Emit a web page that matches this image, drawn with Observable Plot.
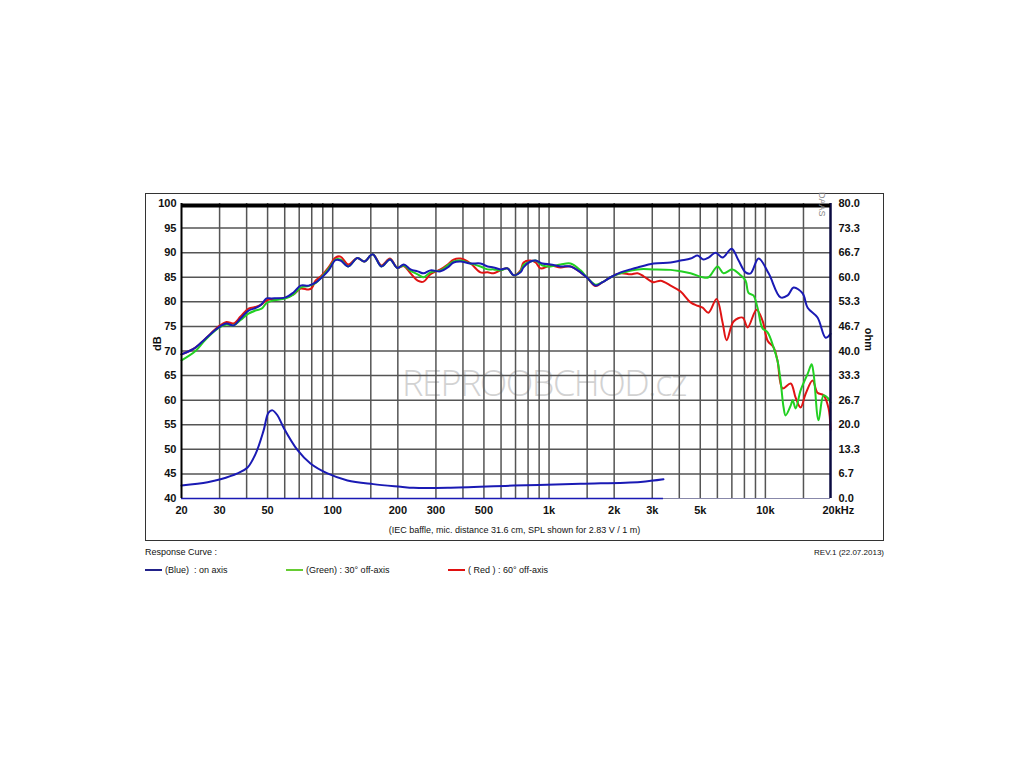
<!DOCTYPE html>
<html><head><meta charset="utf-8">
<script src="https://cdn.jsdelivr.net/npm/d3@7"></script>
<script src="https://cdn.jsdelivr.net/npm/@observablehq/plot@0.6"></script>
<style>
body{margin:0;background:#fff;font-family:"Liberation Sans",Arial,sans-serif;}
#box{position:absolute;left:145px;top:193px;width:737px;height:346px;border:1px solid #333;}
#chart{position:absolute;left:0;top:0;}
#caption{position:absolute;left:0;width:737px;top:331px;text-align:center;font-size:9px;color:#111;}
.leg{position:absolute;font-size:9px;color:#111;white-space:nowrap;line-height:11px;}
.sw{position:absolute;height:2px;width:17px;}
</style></head><body>
<div id="box"><div id="chart"></div><div id="caption">(IEC baffle, mic. distance 31.6 cm, SPL shown for 2.83 V / 1 m)</div></div>
<div class="leg" style="left:145px;top:547px;">Response Curve :</div>
<div class="leg" style="right:140px;top:547px;font-size:8px;">REV.1 (22.07.2013)</div>
<div class="sw" style="left:145px;top:569px;background:#22228a;"></div>
<div class="leg" style="left:165px;top:565px;">(Blue)&nbsp; : on axis</div>
<div class="sw" style="left:286px;top:569px;background:#66cc33;"></div>
<div class="leg" style="left:306px;top:565px;">(Green) : 30° off-axis</div>
<div class="sw" style="left:448px;top:569px;background:#e01010;"></div>
<div class="leg" style="left:468px;top:565px;">( Red ) : 60° off-axis</div>
<script>
// ---- data ----
const seriesNames = ["on axis", "30° off-axis", "60° off-axis"];
const onAxis = [[20,69.3],[23.2,70.7],[25.8,72.5],[29.7,74.8],[32.3,75.6],[34.8,75.2],[37.5,76.6],[40.8,78.2],[44.4,78.8],[46.9,79.5],[49.4,80.7],[52.1,80.7],[60.5,80.9],[65.9,81.9],[71,83.3],[77.3,83.3],[83.3,83.9],[88.7,84.9],[95.7,86.4],[103,88.5],[108.7,88.4],[118,87.2],[130,88.9],[140,88.2],[153,89.7],[168,87.2],[184,88.6],[199,86.9],[213,87.6],[229,86.6],[247,86.2],[263,85.8],[283,86.4],[315,86.2],[340,87],[362,88],[390,88.2],[434,87.8],[482,87.8],[520,87.2],[554,87],[597,86.6],[643,86.8],[686,85.4],[738,86],[762,87],[821,88.2],[867,88.4],[933,87.8],[1016,87.6],[1130,87.2],[1257,87.2],[1399,86],[1508,84.8],[1640,83.3],[1768,84],[1925,85],[2143,86],[2380,86.6],[2566,87],[3041,87.8],[3647,88],[4056,88.4],[4510,88.8],[4860,89.4],[5180,88.6],[5460,89],[5890,90],[6340,89],[6980,90.8],[7520,88.4],[8100,86],[8550,85.8],[9300,88.8],[10350,85.8],[11750,80.9],[12680,81.3],[13500,82.9],[14870,81.7],[15680,78.8],[17420,76.8],[18980,72.7],[20000,73.5]];
const offAxis30 = [[20,68.1],[23.2,70],[25.8,72.3],[29.7,74.7],[32.3,75.4],[34.8,75.2],[37.5,76.3],[40.8,77.6],[44.4,78.3],[46.9,78.6],[49.4,79.7],[52.1,80.2],[60.5,80.7],[65.9,81.5],[71,82.9],[77.3,83.2],[83.3,83.8],[88.7,85],[95.7,86.7],[103,88.6],[108.7,88.6],[118,87.2],[130,88.9],[140,88.2],[153,89.7],[168,87.2],[184,88.6],[199,86.9],[213,87.4],[229,86.3],[247,85.6],[263,85],[283,86],[315,86.4],[340,87.4],[362,88.2],[390,88.4],[434,87.8],[482,87.2],[520,86.6],[554,86.6],[597,86.4],[643,86.8],[686,85.4],[738,86.2],[762,87.5],[821,88.2],[867,88.4],[933,87.4],[1016,87.2],[1130,87.6],[1257,87.8],[1399,86.4],[1508,84.8],[1640,83.5],[1768,84],[1925,85],[2143,85.8],[2566,86.6],[3041,86.6],[3647,86.5],[4056,86.2],[4510,85.8],[5128,85],[5460,85],[6012,87.2],[6410,85.8],[7050,86.6],[7680,85.4],[8100,84.3],[8360,81.8],[8800,81.3],[9200,78.8],[9700,74.6],[10240,73.8],[10920,70.7],[11380,68],[11750,64],[12140,58.5],[12400,56.9],[13090,58.9],[13370,60],[13800,58.3],[14550,62],[15700,65.4],[16360,67.3],[16710,65.4],[17620,55.9],[18580,61],[19400,60.5],[20000,59.5]];
const offAxis60 = [[20,69.3],[23.2,70.7],[25.8,72.5],[29.7,75],[32.3,75.9],[34.8,75.6],[37.5,77],[40.8,78.6],[44.4,79],[46.9,79.5],[49.4,80.3],[52.1,80.5],[60.5,80.8],[65.9,81.5],[71,82.7],[77.3,82.5],[80,82.8],[83.3,84.3],[88.7,85.3],[95.7,87],[103,89],[108.7,89.2],[118,87.6],[130,88.9],[140,88.2],[153,89.7],[168,87.4],[184,88.8],[199,86.9],[213,87.3],[229,85.8],[247,84.3],[263,84.1],[283,85.6],[315,86.6],[340,87.6],[362,88.6],[390,88.8],[434,87.8],[482,86],[520,86],[554,85.8],[597,86.4],[643,86.8],[686,85.4],[738,86.4],[762,88],[821,88.4],[867,88],[914,86.8],[1016,87.4],[1130,87],[1257,87.2],[1399,86],[1508,84.8],[1640,83.2],[1768,84],[1925,85],[2143,85.8],[2380,85.6],[2566,85.8],[2736,85.2],[3041,84],[3280,84.3],[3647,83.3],[4056,82.1],[4510,79.9],[4860,79.2],[5128,78.8],[5460,77.8],[5950,80.6],[6340,75.8],[6620,72.2],[7130,76],[7850,76.8],[8280,74.8],[9100,78.4],[9700,76.2],[10240,72.1],[10920,70.7],[11380,68],[12000,62.4],[13090,63.4],[13800,60.5],[14550,58.5],[15350,61.3],[16530,64],[17420,61.5],[18580,61],[19600,58.3],[20000,54]];
const impedanceOhm = [[20,3.5],[26.4,4.4],[30.3,5.2],[36.3,6.8],[40.4,8.4],[44,12.1],[47.9,18.4],[50.5,23.3],[52.7,23.9],[55.6,22.5],[59.3,19.2],[68.8,13.1],[78.9,9.5],[94.6,6.8],[117,4.9],[154,3.9],[206,3.2],[236,2.9],[340,2.9],[686,3.5],[1398,4],[2648,4.5],[3380,5.2]];
const gridFreqs = [20,30,40,50,60,70,80,90,100,150,200,300,400,500,600,700,800,900,1000,1500,2000,3000,4000,5000,6000,7000,8000,9000,10000,15000,20000];
const xTickFreqs = [20,30,50,100,200,300,500,1000,2000,3000,5000,10000];
const xTickLabels = ["20","30","50","100","200","300","500","1k","2k","3k","5k","10k"];
const xLastTick = [20000];
const xLastLabel = ["20kHz"];
const dbTicks = [40,45,50,55,60,65,70,75,80,85,90,95,100];
const ohmTickLabels = ["0.0","6.7","13.3","20.0","26.7","33.3","40.0","46.7","53.3","60.0","66.7","73.3","80.0"];
const dbDomain = [40,100];
const ohmDomain = [0,80];

const BLUE = "#1a1ab4", GREEN = "#22d022", RED = "#e01414";
const toDb = o => dbDomain[0] + (o - ohmDomain[0]) * (dbDomain[1]-dbDomain[0]) / (ohmDomain[1]-ohmDomain[0]);
const font = '"Liberation Sans", Arial, sans-serif';

const chart = Plot.plot({
  width: 737, height: 346,
  marginLeft: 35, marginRight: 53, marginTop: 9, marginBottom: 42,
  style: {fontFamily: font, fontSize: "11px", color: "#111", background: "transparent", overflow: "visible"},
  x: {type: "log", domain: [20, 20000], axis: null},
  y: {domain: dbDomain},
  marks: [
    Plot.text(["REPROOBCHOD.cz"], {frameAnchor: "middle", dx: 38, dy: 33, fontSize: 36, fill: "#d2d2d2", fontWeight: 300, fontFamily: "Open Sans"}),
    Plot.ruleY(dbTicks.slice(1, -1), {stroke: "#555", strokeWidth: 1.5}),
    Plot.ruleX(gridFreqs.slice(1, -1), {stroke: "#555", strokeWidth: 1.5}),
    Plot.ruleY([40], {stroke: "#8888aa", strokeWidth: 1.2}),
    Plot.ruleY([40], {x1: 20, x2: impedanceOhm[impedanceOhm.length-1][0], stroke: BLUE, strokeWidth: 1.5}),
    Plot.line(impedanceOhm, {x: d => d[0], y: d => toDb(d[1]), stroke: BLUE, strokeWidth: 2, curve: "catmull-rom"}),
    Plot.line(offAxis60, {x: d => d[0], y: d => d[1], stroke: RED, strokeWidth: 2, curve: "catmull-rom"}),
    Plot.line(offAxis30, {x: d => d[0], y: d => d[1], stroke: GREEN, strokeWidth: 2, curve: "catmull-rom"}),
    Plot.line(onAxis, {x: d => d[0], y: d => d[1], stroke: BLUE, strokeWidth: 2, curve: "catmull-rom"}),
    Plot.ruleX([20], {stroke: "#000", strokeWidth: 2}),
    Plot.ruleX([20000], {stroke: "#0a0a40", strokeWidth: 2.5}),
    Plot.ruleY([100], {stroke: "#000", strokeWidth: 4, dy: 2}),
    Plot.text(xTickFreqs, {x: d => d, text: (d, i) => xTickLabels[i], frameAnchor: "bottom", dy: 8, lineAnchor: "top", fontWeight: "bold"}),
    Plot.text(xLastTick, {x: d => d, text: (d, i) => xLastLabel[i], frameAnchor: "bottom", dx: -8, dy: 8, textAnchor: "start", lineAnchor: "top", fontWeight: "bold"}),
    Plot.axisY({ticks: dbTicks, tickSize: 0, tickPadding: 5, fontWeight: "bold", label: null}),
    Plot.axisY({anchor: "right", ticks: dbTicks, tickFormat: d => ohmTickLabels[dbTicks.indexOf(d)], tickSize: 0, tickPadding: 8, fontWeight: "bold", label: null}),
    Plot.text(["dB"], {frameAnchor: "left", dx: -24, rotate: -90, fontWeight: "bold"}),
    Plot.text(["ohm"], {frameAnchor: "right", dx: 38, rotate: 90, fontWeight: "bold"}),
    Plot.text(["DAAS"], {frameAnchor: "top-right", dx: -5, dy: 13, rotate: 90, fontSize: 9, fill: "#888"})
  ]
});
d3.select(chart).selectAll("text").filter(function() { return this.textContent === "REPROOBCHOD.cz"; }).style("letter-spacing", "-1.5px");
document.getElementById("chart").appendChild(chart);
</script>
</body></html>
